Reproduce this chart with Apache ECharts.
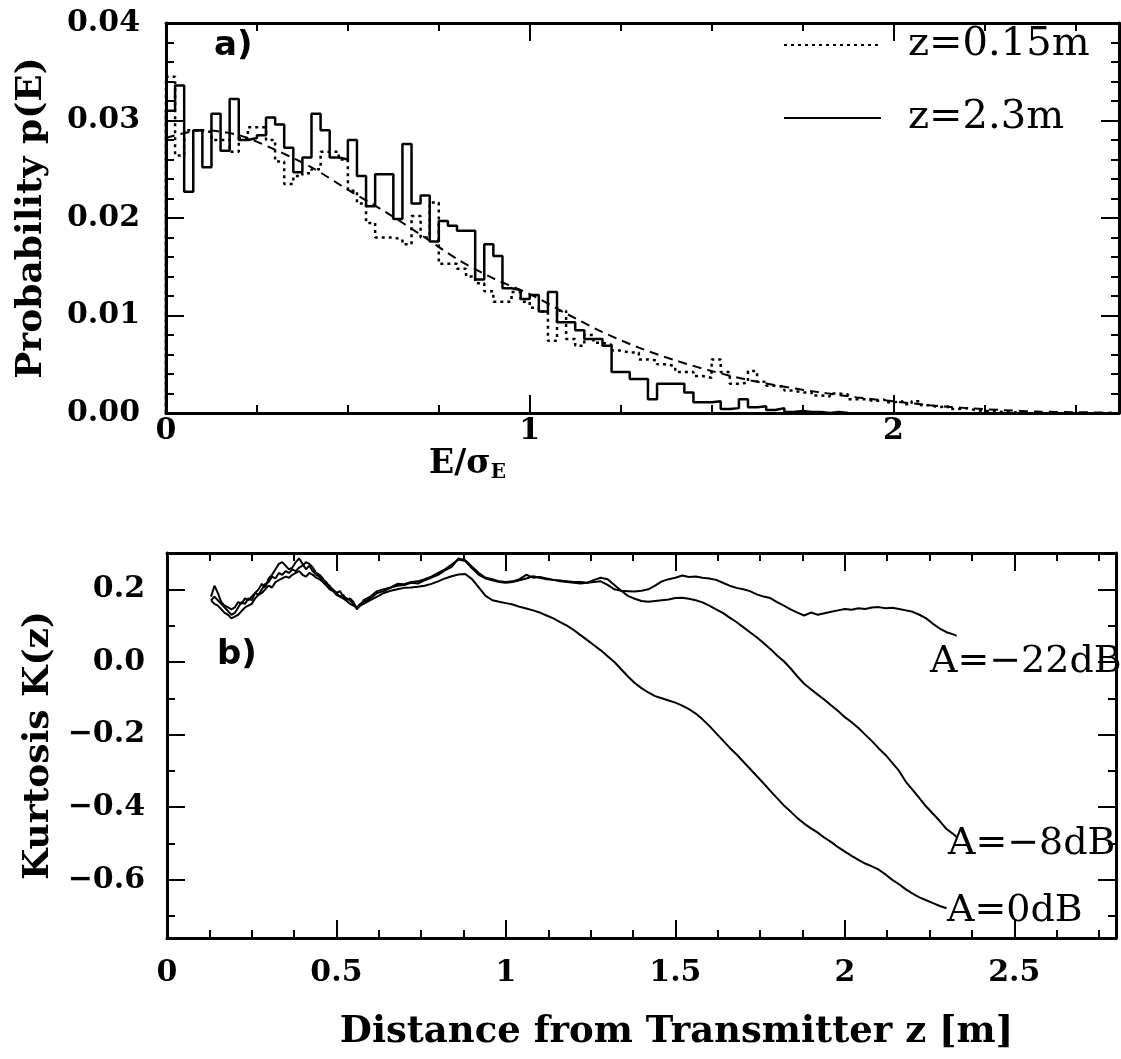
<!DOCTYPE html>
<html>
<head>
<meta charset="utf-8">
<script src="https://cdn.jsdelivr.net/npm/echarts@6/dist/echarts.min.js"></script>
<style>html,body{margin:0;padding:0;background:#fff}#c{width:1121px;height:1059px}</style>
</head>
<body>
<div id="c"></div>
<script>
// ---------- Panel a) : histograms p(E), bin width in units of E/sigma_E ----------
const BIN = 0.025;
const pNear = [ // z = 0.15 m (dotted)
 0.0345,0.0264,0.0290,0.0290,0.0288,0.0280,0.0280,0.0268,0.0282,0.0293,
 0.0293,0.0280,0.0258,0.0235,0.0243,0.0246,0.0250,0.0268,0.0268,0.0260,
 0.0228,0.0215,0.0195,0.0180,0.0180,0.0178,0.0173,0.0202,0.0180,0.0216,
 0.0153,0.0153,0.0148,0.0140,0.0133,0.0125,0.0114,0.0114,0.0124,0.0114,
 0.0108,0.0104,0.0074,0.0105,0.0076,0.0069,0.0080,0.0072,0.0070,0.0064,
 0.0062,0.0062,0.0055,0.0054,0.0050,0.0048,0.0042,0.0042,0.0038,0.0036,
 0.0055,0.0042,0.0030,0.0031,0.0043,0.0032,0.0028,0.0027,0.0023,0.0021,
 0.0021,0.0018,0.0017,0.0020,0.0019,0.0014,0.0014,0.0012,0.0014,0.0011,
 0.0012,0.0009,0.0012,0.0008,0.0006,0.0007,0.0004,0.0005,0.0003,0.0002,
 0.0002,0.0001,0.0001,0.0000];
const pFar = [ // z = 2.3 m (solid)
 0.0310,0.0336,0.0227,0.0290,0.0252,0.0307,0.0269,0.0322,0.0280,0.0282,
 0.0285,0.0303,0.0296,0.0272,0.0247,0.0262,0.0307,0.0290,0.0262,0.0260,
 0.0280,0.0243,0.0212,0.0245,0.0245,0.0199,0.0276,0.0215,0.0223,0.0176,
 0.0197,0.0192,0.0187,0.0187,0.0137,0.0173,0.0161,0.0128,0.0126,0.0117,
 0.0121,0.0104,0.0124,0.0093,0.0093,0.0085,0.0076,0.0076,0.0069,0.0042,
 0.0042,0.0035,0.0035,0.0014,0.0030,0.0030,0.0030,0.0021,0.0011,0.0011,
 0.0012,0.0004,0.0005,0.0014,0.0006,0.0007,0.0003,0.0005,0.0001,0.0002,
 0.0001,0.0001,0.0000,0.0001,0.0000];
const theoryX = [0,0.1,0.2,0.3,0.4,0.5,0.6,0.7,0.8,0.9,1.0,1.1,1.2,1.3,1.4,1.5,1.6,1.7,1.8,1.9,2.0,2.1,2.2,2.3,2.4,2.5,2.6];
const theoryY = [0.0282,0.0290,0.0285,0.0270,0.0252,0.0229,0.0207,0.0183,0.0158,0.0138,0.0122,0.0102,0.0083,0.0067,0.0054,0.0043,0.0034,0.0027,0.0021,0.0016,0.0012,0.0008,0.0005,0.0003,0.00015,0.00008,0.00004];

// ---------- Panel b) : kurtosis K(z) vs distance ----------
const kzX = [0.13,0.14,0.15,0.16,0.17,0.18,0.19,0.20,0.21,0.22,0.23,0.24,0.25,0.26,0.27,0.28,0.29,0.30,0.31,0.32,
 0.33,0.34,0.35,0.36,0.37,0.38,0.39,0.40,0.41,0.42,0.43,0.44,0.45,0.46,0.47,0.48,0.49,0.50,0.51,0.52,
 0.53,0.54,0.55,0.56,0.57,0.58,
 0.60,0.62,0.64,0.66,0.68,0.70,0.72,0.74,0.76,0.78,0.80,0.82,0.84,0.86,0.88,0.90,0.92,0.94,0.96,0.98,
 1.00,1.02,1.04,1.06,1.08,1.10,1.12,1.14,1.16,1.18,1.20,1.22,1.24,1.26,1.28,1.30,1.32,1.34,1.36,1.38,
 1.40,1.42,1.44,1.46,1.48,1.50,1.52,1.54,1.56,1.58,1.60,1.62,1.64,1.66,1.68,1.70,1.72,1.74,1.76,1.78,
 1.80,1.82,1.84,1.86,1.88,1.90,1.92,1.94,1.96,1.98,2.00,2.02,2.04,2.06,2.08,2.10,2.12,2.14,2.16,2.18,
 2.20,2.22,2.24,2.26,2.28,2.30,2.32,2.33];
const kMinus22 = [0.18,0.21,0.19,0.165,0.155,0.15,0.145,0.15,0.165,0.16,0.175,0.17,0.18,0.19,0.2,0.215,0.205,0.23,0.24,0.255,
 0.27,0.275,0.265,0.255,0.26,0.275,0.285,0.27,0.255,0.265,0.25,0.24,0.235,0.225,0.22,0.205,0.2,0.19,0.195,0.18,
 0.175,0.17,0.16,0.15,0.16,0.165,
 0.175,0.19,0.195,0.205,0.21,0.212,0.218,0.216,0.225,0.232,0.24,0.252,0.262,0.285,0.28,0.262,0.245,0.232,0.228,0.222,
 0.22,0.222,0.228,0.24,0.232,0.234,0.23,0.226,0.224,0.222,0.22,0.22,0.218,0.22,0.222,0.212,0.2,0.196,0.195,0.194,
 0.196,0.2,0.21,0.222,0.228,0.232,0.238,0.234,0.235,0.232,0.23,0.226,0.218,0.21,0.204,0.2,0.195,0.186,0.18,0.176,
 0.165,0.155,0.145,0.136,0.128,0.136,0.13,0.134,0.138,0.142,0.146,0.144,0.148,0.146,0.15,0.151,0.148,0.149,0.146,0.142,
 0.138,0.13,0.12,0.105,0.092,0.082,0.076,0.072];
const kMinus8 = [0.17,0.18,0.17,0.16,0.15,0.14,0.13,0.135,0.15,0.165,0.16,0.175,0.17,0.19,0.185,0.2,0.215,0.22,0.235,0.23,
 0.245,0.24,0.25,0.245,0.255,0.25,0.26,0.265,0.275,0.27,0.26,0.245,0.24,0.23,0.215,0.21,0.195,0.19,0.18,0.185,
 0.17,0.175,0.165,0.145,0.155,0.17,
 0.18,0.195,0.2,0.205,0.215,0.214,0.22,0.222,0.228,0.235,0.245,0.255,0.268,0.282,0.278,0.258,0.24,0.23,0.225,0.22,
 0.218,0.22,0.225,0.23,0.236,0.232,0.228,0.226,0.222,0.22,0.218,0.216,0.218,0.226,0.232,0.228,0.212,0.196,0.182,0.174,
 0.168,0.166,0.168,0.17,0.172,0.176,0.177,0.174,0.17,0.164,0.155,0.145,0.135,0.122,0.11,0.096,0.082,0.068,0.052,0.036,
 0.018,0.002,-0.018,-0.04,-0.06,-0.075,-0.09,-0.104,-0.12,-0.135,-0.152,-0.166,-0.182,-0.2,-0.218,-0.238,-0.256,-0.278,-0.3,-0.33,
 -0.352,-0.375,-0.398,-0.418,-0.438,-0.46,-0.474,-0.482];
const kZero = [0.17,0.16,0.155,0.145,0.135,0.13,0.12,0.125,0.13,0.14,0.15,0.155,0.16,0.175,0.185,0.19,0.2,0.21,0.205,0.22,
 0.225,0.23,0.235,0.232,0.24,0.245,0.25,0.24,0.235,0.245,0.24,0.232,0.228,0.22,0.21,0.2,0.195,0.185,0.18,0.175,
 0.168,0.16,0.155,0.15,0.155,0.16,
 0.17,0.18,0.19,0.196,0.2,0.204,0.205,0.207,0.21,0.215,0.222,0.23,0.236,0.241,0.242,0.228,0.205,0.182,0.17,0.166,
 0.162,0.158,0.152,0.147,0.142,0.136,0.128,0.12,0.11,0.1,0.088,0.074,0.06,0.046,0.032,0.016,0,-0.02,-0.04,-0.058,
 -0.072,-0.084,-0.094,-0.1,-0.106,-0.112,-0.12,-0.13,-0.142,-0.158,-0.176,-0.196,-0.216,-0.236,-0.254,-0.274,-0.294,-0.314,-0.334,-0.355,
 -0.375,-0.395,-0.412,-0.43,-0.445,-0.458,-0.47,-0.484,-0.496,-0.51,-0.522,-0.534,-0.545,-0.555,-0.563,-0.572,-0.585,-0.6,-0.612,-0.626,
 -0.638,-0.648,-0.656,-0.664,-0.672,-0.678];

// ---------- helpers ----------
function hist(vals){
  const d=[[0,0]];
  vals.forEach((v,i)=>d.push([+(i*BIN).toFixed(4), v]));
  d.push([+(vals.length*BIN).toFixed(4), 0]);
  return d;
}
function zip(xs, ys){ return ys.map((y,i)=>[xs[i], y]); }

const SERIF = 'DejaVu Serif';
const labelStyle = {fontFamily:SERIF, fontWeight:'bold', fontSize:30, color:'#000'};
function ax(o){
  const a = {
    type:'value', gridIndex:o.grid, position:o.pos, min:o.min, max:o.max,
    minInterval:o.iv, maxInterval:o.iv, splitNumber:5,
    splitLine:{show:false},
    axisLine:{show:!!o.line, onZero:false, lineStyle:{color:'#000', width:3}},
    axisTick:{show:true, inside:true, length:o.len, lineStyle:{color:'#000', width:2}},
    axisLabel:o.label ? Object.assign({show:true, margin:o.margin||22}, labelStyle, o.label) : {show:false}
  };
  if (o.name) Object.assign(a, o.name);
  return a;
}
const legendText = {fontFamily:SERIF, fontSize:40, color:'#000', padding:[0,0,0,22]};

const chart = echarts.init(document.getElementById('c'), null, {renderer:'canvas'});
const option = {
  animation:false,
  backgroundColor:'#fff',
  grid:[
    {left:166, top:23, width:953, height:390},
    {left:167, top:553, width:949, height:385}
  ],
  xAxis:[
    ax({grid:0,pos:'bottom',min:0,max:2.62,iv:1,len:18,line:true,
        label:{margin:3, showMaxLabel:false, formatter:v=>String(v)},
        name:{name:'E/σ{s|E}', nameLocation:'middle', nameGap:4,
              nameTextStyle:{fontFamily:SERIF, fontWeight:'bold', fontSize:33, color:'#000', lineHeight:36,
                 padding:[0,350,0,0], rich:{s:{fontFamily:SERIF, fontWeight:'bold', fontSize:20, verticalAlign:'bottom', lineHeight:20, color:'#000'}}}}}),
    ax({grid:0,pos:'bottom',min:0,max:2.62,iv:0.25,len:8}),
    ax({grid:0,pos:'top',min:0,max:2.62,iv:1,len:18,line:true}),
    ax({grid:0,pos:'top',min:0,max:2.62,iv:0.25,len:8}),
    ax({grid:1,pos:'bottom',min:0,max:2.8,iv:0.5,len:18,line:true,
        label:{margin:20, showMaxLabel:false, formatter:v=>String(v)},
        name:{name:'Distance from Transmitter z [m]', nameLocation:'middle', nameGap:76,
              nameTextStyle:{fontFamily:SERIF, fontWeight:'bold', fontSize:37, color:'#000', padding:[0,0,0,70]}}}),
    ax({grid:1,pos:'bottom',min:0,max:2.8,iv:0.125,len:8}),
    ax({grid:1,pos:'top',min:0,max:2.8,iv:0.5,len:18,line:true}),
    ax({grid:1,pos:'top',min:0,max:2.8,iv:0.125,len:8})
  ],
  yAxis:[
    ax({grid:0,pos:'left',min:0,max:0.04,iv:0.01,len:18,line:true,
        label:{margin:26, formatter:v=>v.toFixed(2)},
        name:{name:'Probability p(E)', nameLocation:'middle', nameGap:116, nameRotate:90,
              nameTextStyle:{fontFamily:SERIF, fontWeight:'bold', fontSize:36, color:'#000'}}}),
    ax({grid:0,pos:'left',min:0,max:0.04,iv:0.002,len:8}),
    ax({grid:0,pos:'right',min:0,max:0.04,iv:0.01,len:18,line:true}),
    ax({grid:0,pos:'right',min:0,max:0.04,iv:0.002,len:8}),
    ax({grid:1,pos:'left',min:-0.76,max:0.3,iv:0.2,len:18,line:true,
        label:{margin:22, showMinLabel:false, showMaxLabel:false,
               formatter:v=>(v<0?'\u2212':'')+Math.abs(v).toFixed(1)},
        name:{name:'Kurtosis K(z)', nameLocation:'middle', nameGap:110, nameRotate:90,
              nameTextStyle:{fontFamily:SERIF, fontWeight:'bold', fontSize:36, color:'#000'}}}),
    ax({grid:1,pos:'left',min:-0.76,max:0.3,iv:0.1,len:8}),
    ax({grid:1,pos:'right',min:-0.76,max:0.3,iv:0.2,len:18,line:true}),
    ax({grid:1,pos:'right',min:-0.76,max:0.3,iv:0.1,len:8})
  ],
  legend:[
    {data:['z=0.15m'], left:783, top:25, padding:0, orient:'vertical', selectedMode:false,
     itemWidth:97, itemHeight:40, itemStyle:{opacity:0}, textStyle:legendText},
    {data:['z=2.3m'], left:783, top:98, padding:0, orient:'vertical', selectedMode:false,
     itemWidth:97, itemHeight:40, itemStyle:{opacity:0}, textStyle:legendText}
  ],
  series:[
    {name:'z=0.15m', type:'line', step:'end', xAxisIndex:0, yAxisIndex:0, symbol:'none',
     data:hist(pNear), lineStyle:{color:'#000', width:2.5, type:[3,4]}, itemStyle:{color:'#000'}},
    {name:'z=2.3m', type:'line', step:'end', xAxisIndex:0, yAxisIndex:0, symbol:'none',
     data:hist(pFar), lineStyle:{color:'#000', width:2.5, type:'solid'}, itemStyle:{color:'#000'}},
    {name:'theory', type:'line', smooth:0.3, xAxisIndex:0, yAxisIndex:0, symbol:'none',
     data:zip(theoryX, theoryY), lineStyle:{color:'#000', width:2, type:[9,6]}},
    {name:'A=-22dB', type:'line', xAxisIndex:4, yAxisIndex:4, symbol:'none',
     data:zip(kzX, kMinus22), lineStyle:{color:'#000', width:2}},
    {name:'A=-8dB', type:'line', xAxisIndex:4, yAxisIndex:4, symbol:'none',
     data:zip(kzX, kMinus8), lineStyle:{color:'#000', width:2}},
    {name:'A=0dB', type:'line', xAxisIndex:4, yAxisIndex:4, symbol:'none',
     data:zip(kzX, kZero), lineStyle:{color:'#000', width:2}}
  ],
  graphic:[
    {type:'text', left:214, top:29, style:{text:'a)', font:'bold 34px "DejaVu Sans"', fill:'#000'}},
    {type:'text', left:217, top:638, style:{text:'b)', font:'bold 34px "DejaVu Sans"', fill:'#000'}},
    {type:'text', left:930, top:643, style:{text:'A=\u221222dB', font:'38px "DejaVu Serif"', fill:'#000'}},
    {type:'text', left:948, top:825, style:{text:'A=\u22128dB', font:'38px "DejaVu Serif"', fill:'#000'}},
    {type:'text', left:947, top:892, style:{text:'A=0dB', font:'38px "DejaVu Serif"', fill:'#000'}}
  ]
};
chart.setOption(option);
</script>
</body>
</html>
